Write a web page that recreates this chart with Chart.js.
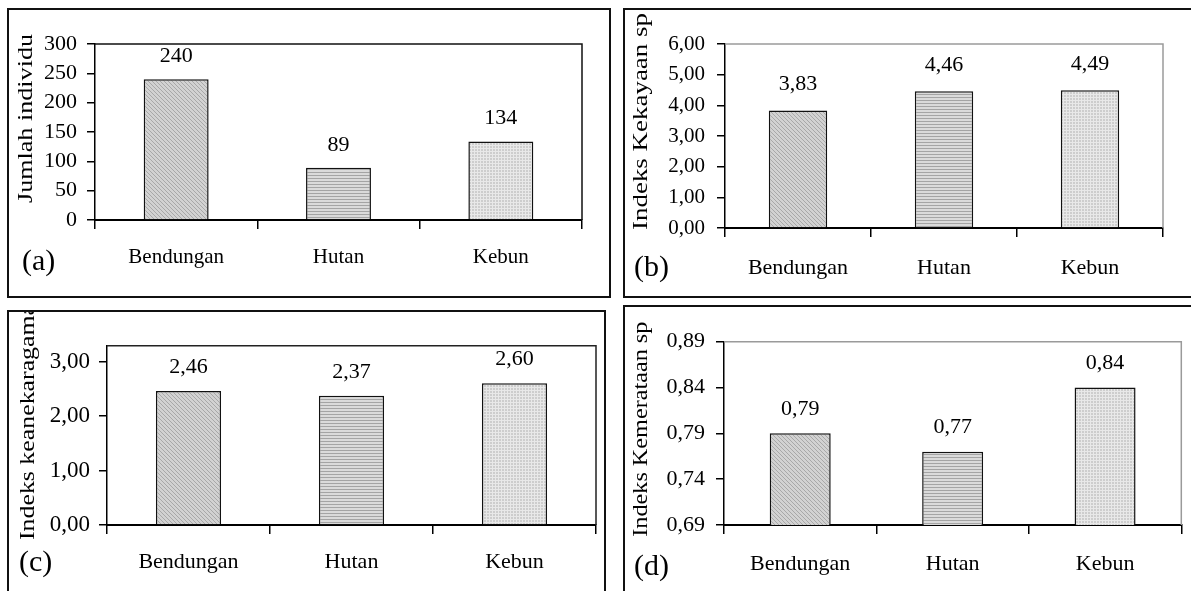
<!DOCTYPE html>
<html>
<head>
<meta charset="utf-8">
<script src="https://cdn.jsdelivr.net/npm/chart.js@4.4.1/dist/chart.umd.min.js"></script>
<style>
  html, body { margin: 0; padding: 0; background: #fff; width: 1191px; height: 591px; overflow: hidden; }
  .panel { position: absolute; border: 2px solid #111; box-sizing: border-box; background: #fff; }
  .panel canvas { position: absolute; left: 0; top: 0; }
  .huruf { position: absolute; font-family: 'Liberation Serif', 'Times New Roman', serif; font-size: 30px; line-height: 30px; color: #000; white-space: nowrap; }
</style>
</head>
<body>
<div class="panel" style="left:7px; top:8px; width:604px; height:290px;">
  <canvas id="grafikA" width="600" height="286"></canvas>
  <span class="huruf" style="left:13px; top:235px;">(a)</span>
</div>
<div class="panel" style="left:623px; top:8px; width:620px; height:290px;">
  <canvas id="grafikB" width="566" height="286"></canvas>
  <span class="huruf" style="left:9px; top:241px;">(b)</span>
</div>
<div class="panel" style="left:7px; top:310px; width:599px; height:300px;">
  <canvas id="grafikC" width="595" height="279"></canvas>
  <span class="huruf" style="left:10px; top:234px;">(c)</span>
</div>
<div class="panel" style="left:623px; top:305px; width:620px; height:300px;">
  <canvas id="grafikD" width="566" height="284"></canvas>
  <span class="huruf" style="left:9px; top:243px;">(d)</span>
</div>

<script>
// Data
const kategori = ['Bendungan', 'Hutan', 'Kebun'];
const jumlahIndividu = [240, 89, 134];
const indeksKekayaan = [3.83, 4.46, 4.49];
const indeksKeanekaragaman = [2.46, 2.37, 2.60];
const indeksKemerataan = [0.79, 0.77, 0.84];

// Tick sumbu Y
const tickA = [0, 50, 100, 150, 200, 250, 300];
const tickB = [0, 1, 2, 3, 4, 5, 6];
const tickC = [0, 1, 2, 3];
const tickD = [0.69, 0.74, 0.79, 0.84, 0.89];

const FONT = "'Liberation Serif', 'Times New Roman', serif";

// Pola arsiran batang
function buatPola(jenis) {
  const c = document.createElement('canvas');
  const g = c.getContext('2d');
  if (jenis === 'diagonal') {
    c.width = 4; c.height = 4;
    g.fillStyle = '#d2d2d2'; g.fillRect(0, 0, 4, 4);
    g.fillStyle = '#a8a8a8';
    for (let i = 0; i < 4; i++) g.fillRect(i, i, 1, 1);
  } else if (jenis === 'horizontal') {
    c.width = 3; c.height = 3;
    g.fillStyle = '#dadada'; g.fillRect(0, 0, 3, 3);
    g.fillStyle = '#a4a4a4'; g.fillRect(0, 0, 3, 1);
  } else {
    c.width = 3; c.height = 3;
    g.fillStyle = '#cdcdcd'; g.fillRect(0, 0, 3, 3);
    g.fillStyle = '#e8e8e8'; g.fillRect(0, 0, 3, 1); g.fillRect(0, 0, 1, 3);
  }
  return g.createPattern(c, 'repeat');
}
const polaBatang = [buatPola('diagonal'), buatPola('horizontal'), buatPola('titik')];

function formatAngka(v, desimal) {
  return Number(v).toFixed(desimal).replace('.', ',');
}

// Garis atas dan kanan area plot
const bingkaiPlot = {
  id: 'bingkaiPlot',
  beforeDatasetsDraw(chart, args, opts) {
    const { ctx, chartArea: { left, top, right, bottom } } = chart;
    ctx.save();
    ctx.strokeStyle = opts.warna;
    ctx.lineWidth = 1.5;
    ctx.beginPath();
    ctx.moveTo(left, top);
    ctx.lineTo(right, top);
    ctx.lineTo(right, bottom);
    ctx.stroke();
    ctx.restore();
  }
};

// Label nilai di atas batang
const labelNilai = {
  id: 'labelNilai',
  afterDatasetsDraw(chart, args, opts) {
    const { ctx } = chart;
    const meta = chart.getDatasetMeta(0);
    const data = chart.data.datasets[0].data;
    ctx.save();
    ctx.font = `${opts.ukuran}px ${FONT}`;
    ctx.fillStyle = '#000';
    ctx.textAlign = 'center';
    ctx.textBaseline = 'middle';
    meta.data.forEach((bar, i) => {
      ctx.fillText(formatAngka(data[i], opts.desimal), bar.x, bar.y - opts.jarak);
    });
    ctx.restore();
  }
};

// Judul sumbu Y (teks tegak, agak memanjang seperti di gambar asli)
const judulSumbuY = {
  id: 'judulSumbuY',
  afterDraw(chart, args, opts) {
    const { ctx } = chart;
    ctx.save();
    ctx.font = `${opts.ukuran}px ${FONT}`;
    ctx.fillStyle = '#000';
    ctx.textAlign = 'left';
    ctx.textBaseline = 'middle';
    const lebar = ctx.measureText(opts.teks).width;
    ctx.translate(opts.x, opts.y);
    ctx.rotate(-Math.PI / 2);
    ctx.scale(opts.panjang / lebar, 1);
    ctx.fillText(opts.teks, 0, 0);
    ctx.restore();
  }
};

function buatGrafik(idCanvas, nilai, cfg) {
  return new Chart(document.getElementById(idCanvas), {
    type: 'bar',
    data: {
      labels: kategori,
      datasets: [{
        data: nilai,
        backgroundColor: polaBatang,
        borderColor: '#111',
        borderWidth: 1.5,
        barPercentage: 0.4,
        categoryPercentage: 1
      }]
    },
    options: {
      responsive: false,
      animation: false,
      layout: { padding: { top: cfg.padAtas, right: cfg.padKanan, left: 0, bottom: 0 } },
      plugins: {
        legend: { display: false },
        tooltip: { enabled: false },
        bingkaiPlot: { warna: cfg.warnaBingkai },
        labelNilai: { desimal: cfg.desimal, jarak: cfg.jarakLabel, ukuran: 22 },
        judulSumbuY: { teks: cfg.judul, ukuran: 20, x: cfg.judulX, y: cfg.judulY, panjang: cfg.judulPanjang }
      },
      scales: {
        x: {
          grid: { offset: true, drawOnChartArea: false, tickLength: 9, color: '#000', lineWidth: 1.5 },
          border: { color: '#000', width: 2 },
          ticks: { color: '#000', font: { family: FONT, size: cfg.ukuranKategori }, padding: cfg.padKategori, maxRotation: 0 },
          afterFit: s => { s.height = cfg.tinggiX; }
        },
        y: {
          min: cfg.min,
          max: cfg.max,
          afterBuildTicks: s => { s.ticks = cfg.tick.map(v => ({ value: v })); },
          grid: { drawOnChartArea: false, tickLength: 8, color: '#000', lineWidth: 1.5 },
          border: { color: '#000', width: 1.5 },
          ticks: {
            color: '#000',
            autoSkip: false,
            font: { family: FONT, size: cfg.ukuranTick },
            padding: cfg.padTick,
            callback: v => formatAngka(v, cfg.desimal)
          },
          afterFit: s => { s.width = cfg.lebarY; }
        }
      }
    },
    plugins: [bingkaiPlot, labelNilai, judulSumbuY]
  });
}

buatGrafik('grafikA', jumlahIndividu, {
  judul: 'Jumlah individu', min: 0, max: 300, tick: tickA, desimal: 0,
  padAtas: 34, padKanan: 27, lebarY: 86, tinggiX: 76,
  ukuranTick: 22, padTick: 10, ukuranKategori: 21, padKategori: 16,
  judulX: 17.5, judulY: 193, judulPanjang: 169, jarakLabel: 23, warnaBingkai: '#111'
});

buatGrafik('grafikB', indeksKekayaan, {
  judul: 'Indeks Kekayaan sp', min: 0, max: 6, tick: tickB, desimal: 2,
  padAtas: 34, padKanan: 28, lebarY: 100, tinggiX: 68,
  ukuranTick: 21, padTick: 12, ukuranKategori: 22, padKategori: 18,
  judulX: 16.7, judulY: 220, judulPanjang: 217, jarakLabel: 26, warnaBingkai: '#9a9a9a'
});

buatGrafik('grafikC', indeksKeanekaragaman, {
  judul: 'Indeks keanekaragaman', min: 0, max: 3.29, tick: tickC, desimal: 2,
  padAtas: 33.7, padKanan: 8, lebarY: 98, tinggiX: 66,
  ukuranTick: 23, padTick: 9, ukuranKategori: 22, padKategori: 15.5,
  judulX: 19.7, judulY: 228, judulPanjang: 249, jarakLabel: 24, warnaBingkai: '#222'
});

buatGrafik('grafikD', indeksKemerataan, {
  judul: 'Indeks Kemerataan sp', min: 0.69, max: 0.89, tick: tickD, desimal: 2,
  padAtas: 34.7, padKanan: 9.7, lebarY: 99, tinggiX: 66,
  ukuranTick: 22, padTick: 11, ukuranKategori: 22, padKategori: 17.5,
  judulX: 16.7, judulY: 229.7, judulPanjang: 215, jarakLabel: 24.5, warnaBingkai: '#9a9a9a'
});
</script>
</body>
</html>
